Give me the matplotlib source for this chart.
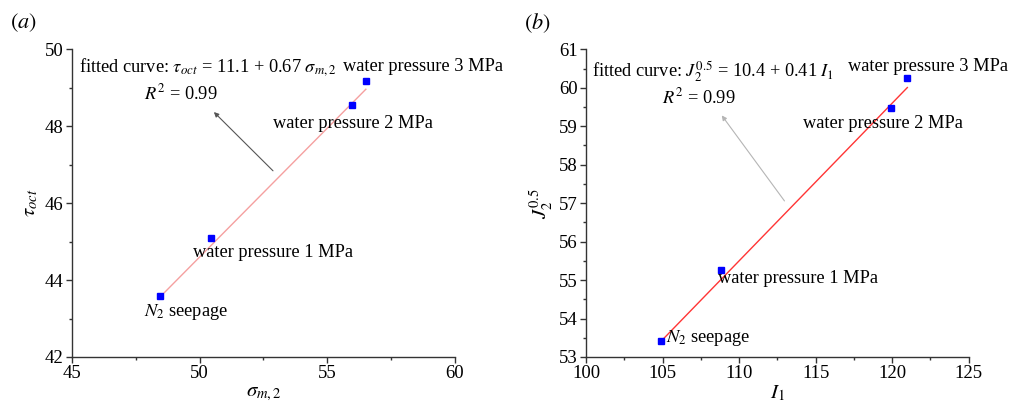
import numpy as np
import matplotlib
matplotlib.use("Agg")
import matplotlib.pyplot as plt

plt.rcParams['font.family'] = ['Liberation Serif', 'DejaVu Serif']
plt.rcParams['mathtext.fontset'] = 'stix'
plt.rcParams['font.size'] = 13

# (a) tensión octaédrica frente a tensión media
sigma_m2 = [48.45, 50.43, 55.97, 56.51]
tau_oct = [43.59, 45.10, 48.55, 49.18]
fit_a = (11.1, 0.67)

# (b) J2^0.5 frente a I1
I1 = [104.88, 108.84, 119.90, 120.99]
J2_05 = [53.42, 55.27, 59.48, 60.26]
fit_b = (10.4, 0.41)

fig = plt.figure(figsize=(10.13, 4.12), dpi=100)
ax1 = fig.add_axes([0.0711, 0.1335, 0.378, 0.7468])
ax2 = fig.add_axes([0.5785, 0.1335, 0.3778, 0.7468])

for ax in (ax1, ax2):
    for s in ('top', 'right'):
        ax.spines[s].set_visible(False)
    for s in ('left', 'bottom'):
        ax.spines[s].set_color('#333333')
        ax.spines[s].set_linewidth(1.0)
    ax.tick_params(which='major', direction='out', length=4, width=1,
                   color='#333333', labelsize=13.5, pad=2)
    ax.tick_params(which='minor', direction='out', length=2.5, width=1,
                   color='#333333')

FS = 13.2

# --- panel (a)
xx = np.array([sigma_m2[0], sigma_m2[-1]])
ax1.plot(xx, fit_a[0] + fit_a[1] * xx, color='#f5a0a0', lw=1.0, zorder=2)
ax1.plot(sigma_m2, tau_oct, 's', color='#0000ff', ms=4.5, zorder=3)
ax1.set_xlim(45, 60)
ax1.set_ylim(42, 50)
ax1.set_xticks([45, 50, 55, 60])
ax1.set_xticks([47.5, 52.5, 57.5], minor=True)
ax1.set_yticks([42, 44, 46, 48, 50])
ax1.set_yticks([43, 45, 47, 49], minor=True)
ax1.set_xlabel(r'$\sigma_{m,2}$', fontsize=15, labelpad=1)
ax1.set_ylabel(r'$\tau_{oct}$', fontsize=15, labelpad=3)

ax1.text(45.27, 49.55, r'fitted curve: $\tau_{oct}$ = 11.1 + 0.67 $\sigma_{m,2}$',
         va='center', ha='left', fontsize=FS)
ax1.text(55.62, 49.55, 'water pressure 3 MPa', va='center', ha='left', fontsize=FS)
ax1.text(47.82, 48.86, r'$R^2$ = 0.99', va='center', ha='left', fontsize=FS)
ax1.text(52.86, 48.06, 'water pressure 2 MPa', va='center', ha='left', fontsize=FS)
ax1.text(49.73, 44.71, 'water pressure 1 MPa', va='center', ha='left', fontsize=FS)
ax1.text(47.83, 43.18, r'$N_2$ seepage', va='center', ha='left', fontsize=FS)
ax1.annotate('', xy=(50.48, 48.42), xytext=(52.95, 46.79),
             arrowprops=dict(arrowstyle='-|>', color='#555555', lw=0.8,
                             mutation_scale=7))
fig.text(0.010, 0.945, r'$(a)$', fontsize=16, va='center')

# --- panel (b)
xx = np.array([I1[0], I1[-1]])
ax2.plot(xx, fit_b[0] + fit_b[1] * xx, color='#ff3535', lw=1.0, zorder=2)
ax2.plot(I1, J2_05, 's', color='#0000ff', ms=4.5, zorder=3)
ax2.set_xlim(100, 125)
ax2.set_ylim(53, 61)
ax2.set_xticks([100, 105, 110, 115, 120, 125])
ax2.set_xticks([102.5, 107.5, 112.5, 117.5, 122.5], minor=True)
ax2.set_yticks(range(53, 62))
ax2.set_yticks(np.arange(53.5, 61, 1.0), minor=True)
ax2.set_xlabel(r'$I_1$', fontsize=15, labelpad=1)
ax2.set_ylabel(r'$J_2^{0.5}$', fontsize=15, labelpad=3)

ax2.text(100.37, 60.42, r'fitted curve: $J_2^{0.5}$ = 10.4 + 0.41 $I_1$',
         va='center', ha='left', fontsize=FS)
ax2.text(117.13, 60.55, 'water pressure 3 MPa', va='center', ha='left', fontsize=FS)
ax2.text(104.98, 59.75, r'$R^2$ = 0.99', va='center', ha='left', fontsize=FS)
ax2.text(114.15, 59.06, 'water pressure 2 MPa', va='center', ha='left', fontsize=FS)
ax2.text(108.6, 55.03, 'water pressure 1 MPa', va='center', ha='left', fontsize=FS)
ax2.text(105.2, 53.49, r'$N_2$ seepage', va='center', ha='left', fontsize=FS)
ax2.annotate('', xy=(108.76, 59.34), xytext=(113.07, 57.0),
             arrowprops=dict(arrowstyle='-|>', color='#b5b5b5', lw=0.8,
                             mutation_scale=7))
fig.text(0.517, 0.945, r'$(b)$', fontsize=16, va='center')

fig.savefig('out.png', dpi=100)
